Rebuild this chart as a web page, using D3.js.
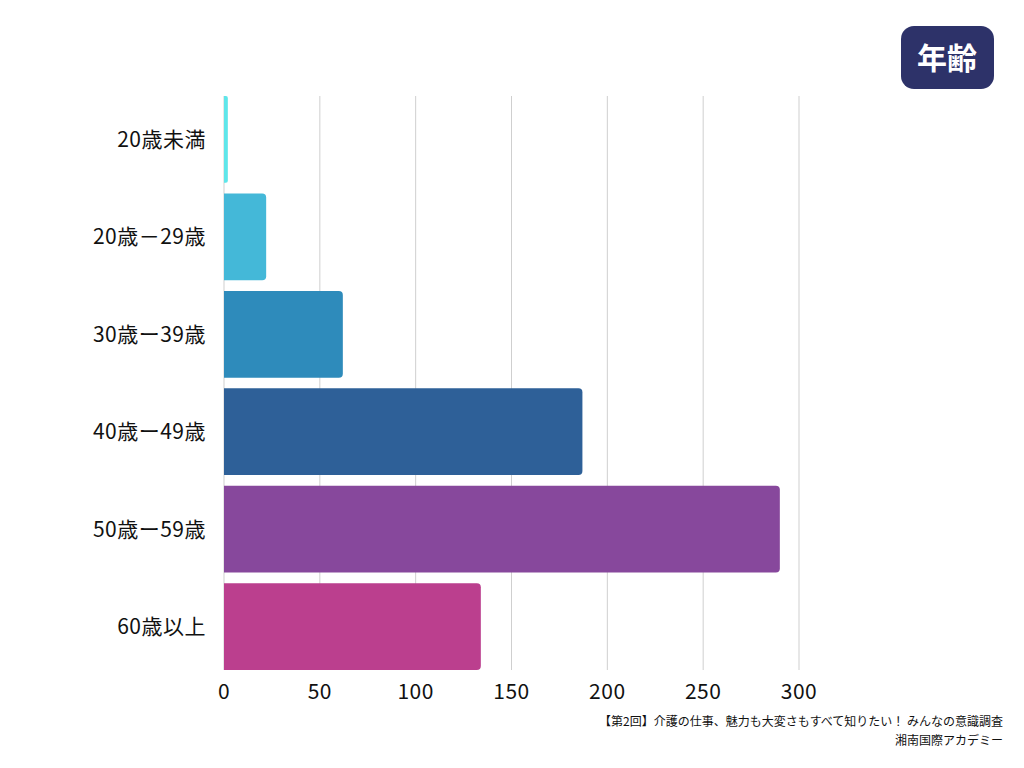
<!DOCTYPE html>
<html><head><meta charset="utf-8">
<script src="https://cdn.jsdelivr.net/npm/d3@7"></script>
<style>body{margin:0;background:#fff}</style></head>
<body><svg id="c" width="1024" height="768"></svg>
<script>
const categories=["20歳未満","20歳－29歳","30歳ー39歳","40歳ー49歳","50歳ー59歳","60歳以上"];
const values=[2,22,62,187,290,134];
const colors=["#5ee6ea","#44b8d8","#2e8bbb","#2e6098","#87489c","#bb3f8e"];
const ticks=[0,50,100,150,200,250,300];
const title="年齢";
const source=["【第2回】介護の仕事、魅力も大変さもすべて知りたい！ みんなの意識調査","湘南国際アカデミー"];
const svg=d3.select("#c");
const font="'Noto Sans CJK JP','Noto Sans',sans-serif";
const x=d3.scaleLinear().domain([0,300]).range([224,799]);
const y=d3.scaleBand().domain(categories).range([96,670]).paddingInner(0.11).paddingOuter(0);
svg.append("g").selectAll("line").data(ticks.slice(1)).join("line")
 .attr("x1",d=>x(d)).attr("x2",d=>x(d)).attr("y1",96).attr("y2",670)
 .attr("stroke","#cfcfcf").attr("stroke-width",1);
svg.append("line").attr("x1",x(0)).attr("x2",x(0)).attr("y1",96).attr("y2",670).attr("stroke","#cfcfcf");
svg.append("g").selectAll("path").data(values).join("path")
 .attr("fill",(d,i)=>colors[i])
 .attr("d",(d,i)=>{const x0=x(0),x1=x(d),y0=y(categories[i]),h=y.bandwidth();const r=Math.min(4,(x1-x0)/2);
   return `M${x0},${y0}H${x1-r}Q${x1},${y0} ${x1},${y0+r}V${y0+h-r}Q${x1},${y0+h} ${x1-r},${y0+h}H${x0}Z`;});
svg.append("g").selectAll("text").data(categories).join("text")
 .attr("x",206).attr("y",d=>y(d)+y.bandwidth()/2).attr("dy","0.35em")
 .attr("text-anchor","end").attr("font-family",font).attr("font-size",21).attr("letter-spacing",0.5).attr("fill","#111").text(d=>d);
svg.append("g").selectAll("text").data(ticks).join("text")
 .attr("x",d=>x(d)).attr("y",699).attr("text-anchor","middle")
 .attr("font-family",font).attr("font-size",21).attr("letter-spacing",0.5).attr("fill","#111").text(d=>d);
svg.append("rect").attr("x",901).attr("y",26).attr("width",93).attr("height",63).attr("rx",13).attr("fill","#2d3269");
svg.append("text").attr("x",947).attr("y",58).attr("dy","0.35em").attr("text-anchor","middle")
 .attr("font-family",font).attr("font-weight","bold").attr("font-size",30).attr("fill","#fff").text(title);
svg.append("g").selectAll("text").data(source).join("text")
 .attr("x",1003).attr("y",(d,i)=>726+i*19).attr("text-anchor","end")
 .attr("font-family",font).attr("font-size",12).attr("fill","#111").text(d=>d);
</script></body></html>
